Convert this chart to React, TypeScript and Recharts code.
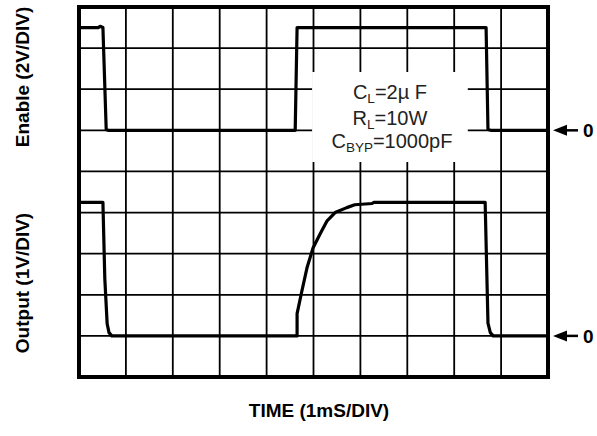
import React from 'react';
import {
  LineChart,
  Line,
  XAxis,
  YAxis,
  CartesianGrid,
  ReferenceArea,
  ReferenceLine,
  Customized,
} from 'recharts';

// grid divisions (time: 1 ms/div, volts: per-trace scale)
const timeDivs = [0, 1, 2, 3, 4, 5, 6, 7, 8, 9, 10];
const voltDivs = [0, 1, 2, 3, 4, 5, 6, 7, 8, 9];

// Enable trace (2V/DIV, zero reference at division 6)
const enableTime = [0, 0.41, 0.45, 0.51, 0.58, 0.62, 4.61, 4.65, 8.68, 8.72, 8.78, 10];
const enableLevel = [8.5, 8.5, 8.53, 8.5, 6.02, 6.0, 6.0, 8.5, 8.5, 6.02, 6.0, 6.0];

// Output trace (1V/DIV, zero reference at division 1)
const outputTime = [0, 0.51, 0.55, 0.6, 0.64, 0.7, 4.65, 4.65, 4.75, 4.86, 4.99, 5.14, 5.29, 5.46, 5.71, 5.88, 6.25, 6.29, 8.66, 8.72, 8.77, 8.83, 10];
const outputLevel = [4.25, 4.25, 2.4, 1.3, 1.08, 1.0, 1.0, 1.54, 2.08, 2.65, 3.14, 3.48, 3.8, 4.0, 4.12, 4.19, 4.22, 4.25, 4.25, 1.31, 1.08, 1.0, 1.0];

// zero-reference markers
const zeroLevels = [6, 1];
const zeroLabel = '0';

// annotation box (in divisions)
const noteTime = [4.97, 8.29];
const noteLevel = [5.23, 7.42];

const enableTitle = 'Enable (2V/DIV)';
const outputTitle = 'Output (1V/DIV)';
const timeTitle = 'TIME (1mS/DIV)';

const enableData = enableTime.map((t, i) => ({ t, v: enableLevel[i] }));
const outputData = outputTime.map((t, i) => ({ t, v: outputLevel[i] }));

const FONT = '"Liberation Sans", Arial, Helvetica, sans-serif';

const ZeroMarker = (props: any) => {
  const vb = props.viewBox || {};
  const x0 = vb.x + vb.width;
  const y0 = vb.y;
  const tip = x0 + 5;
  return (
    <g>
      <polygon points={`${tip},${y0} ${tip + 14},${y0 - 5.5} ${tip + 14},${y0 + 5.5}`} fill="#000" />
      <line x1={tip + 12} y1={y0} x2={tip + 25} y2={y0} stroke="#000" strokeWidth={2.5} />
      <text x={tip + 30} y={y0 + 7} fontFamily={FONT} fontWeight="bold" fontSize={19} fill="#000">
        {zeroLabel}
      </text>
    </g>
  );
};

const NoteLabel = (props: any) => {
  const vb = props.viewBox || {};
  const cx = vb.x + vb.width / 2;
  const cy = vb.y + vb.height / 2;
  const fs = 20;
  const sub = 13.5;
  return (
    <g fontFamily={FONT} fontSize={fs} fill="#222">
      <text x={cx} y={cy - 18} textAnchor="middle">
        <tspan>C</tspan>
        <tspan fontSize={sub} dy={4}>L</tspan>
        <tspan dy={-4}>=2µ F</tspan>
      </text>
      <text x={cx} y={cy + 8} textAnchor="middle">
        <tspan>R</tspan>
        <tspan fontSize={sub} dy={4}>L</tspan>
        <tspan dy={-4}>=10W</tspan>
      </text>
      <text x={cx + 2} y={cy + 31} textAnchor="middle">
        <tspan>C</tspan>
        <tspan fontSize={sub} dy={4}>BYP</tspan>
        <tspan dy={-4}>=1000pF</tspan>
      </text>
    </g>
  );
};

const Titles = () => (
  <g fontFamily={FONT} fontWeight="bold" fontSize={19} fill="#000">
    <text x={22} y={77} textAnchor="middle" dominantBaseline="central" transform="rotate(-90 22 77)">
      {enableTitle}
    </text>
    <text x={22} y={283} textAnchor="middle" dominantBaseline="central" transform="rotate(-90 22 283)">
      {outputTitle}
    </text>
    <text x={319} y={417} textAnchor="middle">
      {timeTitle}
    </text>
  </g>
);

export default function App() {
  return (
    <div style={{ position: 'absolute', left: 0, top: 0, width: 597, height: 436, background: '#fff' }}>
      <LineChart width={597} height={436} margin={{ top: 7, right: 49, bottom: 59, left: 79 }}>
        <XAxis type="number" dataKey="t" domain={[0, 10]} ticks={timeDivs} hide allowDataOverflow />
        <YAxis type="number" domain={[0, 9]} ticks={voltDivs} hide allowDataOverflow />
        <CartesianGrid stroke="#000" strokeWidth={1.8} strokeOpacity={1} />
        <ReferenceArea
          x1={noteTime[0]}
          x2={noteTime[1]}
          y1={noteLevel[0]}
          y2={noteLevel[1]}
          fill="#fff"
          fillOpacity={1}
          stroke="none"
          label={<NoteLabel />}
        />
        {zeroLevels.map((z) => (
          <ReferenceLine key={z} y={z} stroke="none" label={<ZeroMarker />} />
        ))}
        <Line
          data={enableData}
          dataKey="v"
          type="linear"
          stroke="#000"
          strokeWidth={3.2}
          dot={false}
          activeDot={false}
          isAnimationActive={false}
          strokeLinejoin="round"
        />
        <Line
          data={outputData}
          dataKey="v"
          type="linear"
          stroke="#000"
          strokeWidth={3.2}
          dot={false}
          activeDot={false}
          isAnimationActive={false}
          strokeLinejoin="round"
        />
        <ReferenceArea x1={0} x2={10} y1={0} y2={9} fill="none" stroke="#000" strokeWidth={4} />
        <Customized component={<Titles />} />
      </LineChart>
    </div>
  );
}
